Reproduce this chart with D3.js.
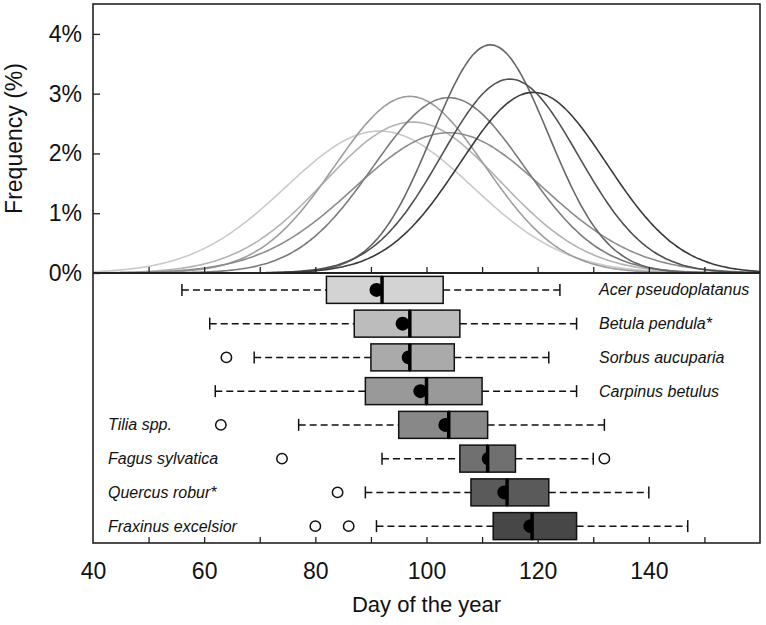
<!DOCTYPE html>
<html><head><meta charset="utf-8">
<script src="https://cdn.jsdelivr.net/npm/d3@7"></script>
<style>body{margin:0;background:#fff}svg text{font-family:"Liberation Sans",Arial,sans-serif;fill:#111}</style>
</head><body><svg id="c" width="766" height="625"></svg>
<script>
// ---- data ----
const species = ["Acer pseudoplatanus","Betula pendula*","Sorbus aucuparia","Carpinus betulus","Tilia spp.","Fagus sylvatica","Quercus robur*","Fraxinus excelsior"];
const whiskerLow  = [56, 61, 69, 62, 77, 92, 89, 91];
const q1          = [82, 87, 90, 89, 95, 106, 108, 112];
const medians     = [92, 97, 97, 100, 104, 111, 114.5, 119];
const means       = [91, 95.7, 96.8, 98.9, 103.4, 111.2, 114, 118.7];
const q3          = [103, 106, 105, 110, 111, 116, 122, 127];
const whiskerHigh = [124, 127, 122, 127, 132, 130, 140, 147];
const outliers    = [[], [], [64], [], [63], [74, 132], [84], [80, 86]];
// fitted frequency curves (normal): centre day and spread (days)
const curveMean = [91.5, 97.5, 97, 104, 104, 111.5, 115, 119.2];
const curveSd   = [16.8, 15.8, 13.5, 17.0, 13.6, 10.45, 12.3, 13.2];
const boxFill   = ["#d3d3d3","#bcbcbc","#aaaaaa","#999999","#888888","#707070","#5a5a5a","#474747"];
const lineCol   = ["#cacaca","#b3b3b3","#9e9e9e","#8c8c8c","#7b7b7b","#676767","#515151","#3a3a3a"];
const xTickLabels = [40, 60, 80, 100, 120, 140];
const xMinorTicks = [50, 60, 70, 80, 90, 100, 110, 120, 130, 140, 150];
const yTicks = [0, 1, 2, 3, 4];

// ---- layout ----
const svg = d3.select("#c");
const L = 93, R = 760, T = 4, MID = 273, B = 543;
const x = d3.scaleLinear().domain([40, 160]).range([L, R]);
const yF = d3.scaleLinear().domain([0, 4.5]).range([MID, T]);
const yB = d3.scaleBand().domain(species).range([MID, B]).paddingInner(0).paddingOuter(0);
const bh = yB.bandwidth() * 0.8;

svg.append("clipPath").attr("id","topclip").append("rect")
  .attr("x", L).attr("y", T).attr("width", R - L).attr("height", MID - T);

// curves
const days = d3.range(40, 160.01, 0.5);
const line = d3.line().x(d => x(d[0])).y(d => yF(d[1])).curve(d3.curveBasis);
const gC = svg.append("g").attr("clip-path","url(#topclip)");
species.forEach((s, i) => {
  const pts = days.map(t => [t, 100 * Math.exp(-0.5 * ((t - curveMean[i]) / curveSd[i]) ** 2) / (curveSd[i] * Math.sqrt(2 * Math.PI))]);
  gC.append("path").attr("d", line(pts)).attr("fill","none")
    .attr("stroke", lineCol[i]).attr("stroke-width", 1.6);
});

// y axis (inner ticks)
const yAx = d3.axisLeft(yF).tickValues(yTicks).tickSize(-7).tickPadding(11).tickFormat(d => d + "%");
const gy = svg.append("g").attr("transform", `translate(${L},0)`).call(yAx);
gy.select(".domain").remove();
gy.selectAll(".tick line").attr("stroke","#222").attr("stroke-width",1.3);
gy.selectAll(".tick text").attr("font-size", 23).attr("fill","#111");

// x ticks on divider (pointing up into top panel)
const gxm = svg.append("g").attr("transform", `translate(0,${MID})`)
  .call(d3.axisBottom(x).tickValues(xMinorTicks).tickSize(-6).tickFormat(""));
gxm.select(".domain").remove();
gxm.selectAll(".tick line").attr("stroke","#222").attr("stroke-width",1.3);

// bottom axis
const gxb = svg.append("g").attr("transform", `translate(0,${B})`)
  .call(d3.axisBottom(x).tickValues(xMinorTicks).tickSize(-6).tickFormat(""));
gxb.select(".domain").remove();
gxb.selectAll(".tick line").attr("stroke","#222").attr("stroke-width",1.3);
const gxl = svg.append("g").attr("transform", `translate(0,${B})`)
  .call(d3.axisBottom(x).tickValues(xTickLabels).tickSize(0).tickPadding(20).tickFormat(d3.format("d")));
gxl.select(".domain").remove();
gxl.selectAll(".tick text").attr("font-size", 23).attr("fill","#111");

// axis titles
svg.append("text").attr("x", (L + R) / 2).attr("y", 612).attr("text-anchor","middle")
  .attr("font-size", 22).text("Day of the year");
svg.append("text").attr("transform", `translate(22,${(T + MID) / 2}) rotate(-90)`)
  .attr("text-anchor","middle").attr("font-size", 23).text("Frequency (%)");

// boxplots
const gB = svg.append("g");
species.forEach((s, i) => {
  const cy = yB(s) + yB.bandwidth() / 2;
  const g = gB.append("g");
  g.append("line").attr("x1", x(whiskerLow[i])).attr("x2", x(q1[i])).attr("y1", cy).attr("y2", cy)
    .attr("stroke","#111").attr("stroke-width",1.5).attr("stroke-dasharray","7,4");
  g.append("line").attr("x1", x(q3[i])).attr("x2", x(whiskerHigh[i])).attr("y1", cy).attr("y2", cy)
    .attr("stroke","#111").attr("stroke-width",1.5).attr("stroke-dasharray","7,4");
  [whiskerLow[i], whiskerHigh[i]].forEach(v => {
    g.append("line").attr("x1", x(v)).attr("x2", x(v)).attr("y1", cy - 6).attr("y2", cy + 6)
      .attr("stroke","#111").attr("stroke-width",1.5);
  });
  g.append("rect").attr("x", x(q1[i])).attr("y", cy - bh / 2).attr("width", x(medians[i]) - x(q1[i])).attr("height", bh)
    .attr("fill", boxFill[i]).attr("stroke","#111").attr("stroke-width",1.5);
  g.append("circle").attr("cx", x(means[i])).attr("cy", cy).attr("r", 7).attr("fill","#000");
  g.append("rect").attr("x", x(medians[i])).attr("y", cy - bh / 2).attr("width", x(q3[i]) - x(medians[i])).attr("height", bh)
    .attr("fill", boxFill[i]).attr("stroke","#111").attr("stroke-width",1.5);
  g.append("line").attr("x1", x(medians[i])).attr("x2", x(medians[i])).attr("y1", cy - bh / 2).attr("y2", cy + bh / 2)
    .attr("stroke","#000").attr("stroke-width",3.5);
  outliers[i].forEach(v => {
    g.append("circle").attr("cx", x(v)).attr("cy", cy).attr("r", 5.2)
      .attr("fill","#fff").attr("stroke","#111").attr("stroke-width",1.5);
  });
  const right = i < 4;
  g.append("text").attr("x", right ? 599 : 108).attr("y", cy + 5.5)
    .attr("font-size", 16).attr("font-style","italic").text(s);
});

// frames
svg.append("rect").attr("x", L).attr("y", T).attr("width", R - L).attr("height", B - T)
  .attr("fill","none").attr("stroke","#222").attr("stroke-width",1.6);
svg.append("line").attr("x1", L).attr("x2", R).attr("y1", MID).attr("y2", MID)
  .attr("stroke","#222").attr("stroke-width",1.8);
</script></body></html>
